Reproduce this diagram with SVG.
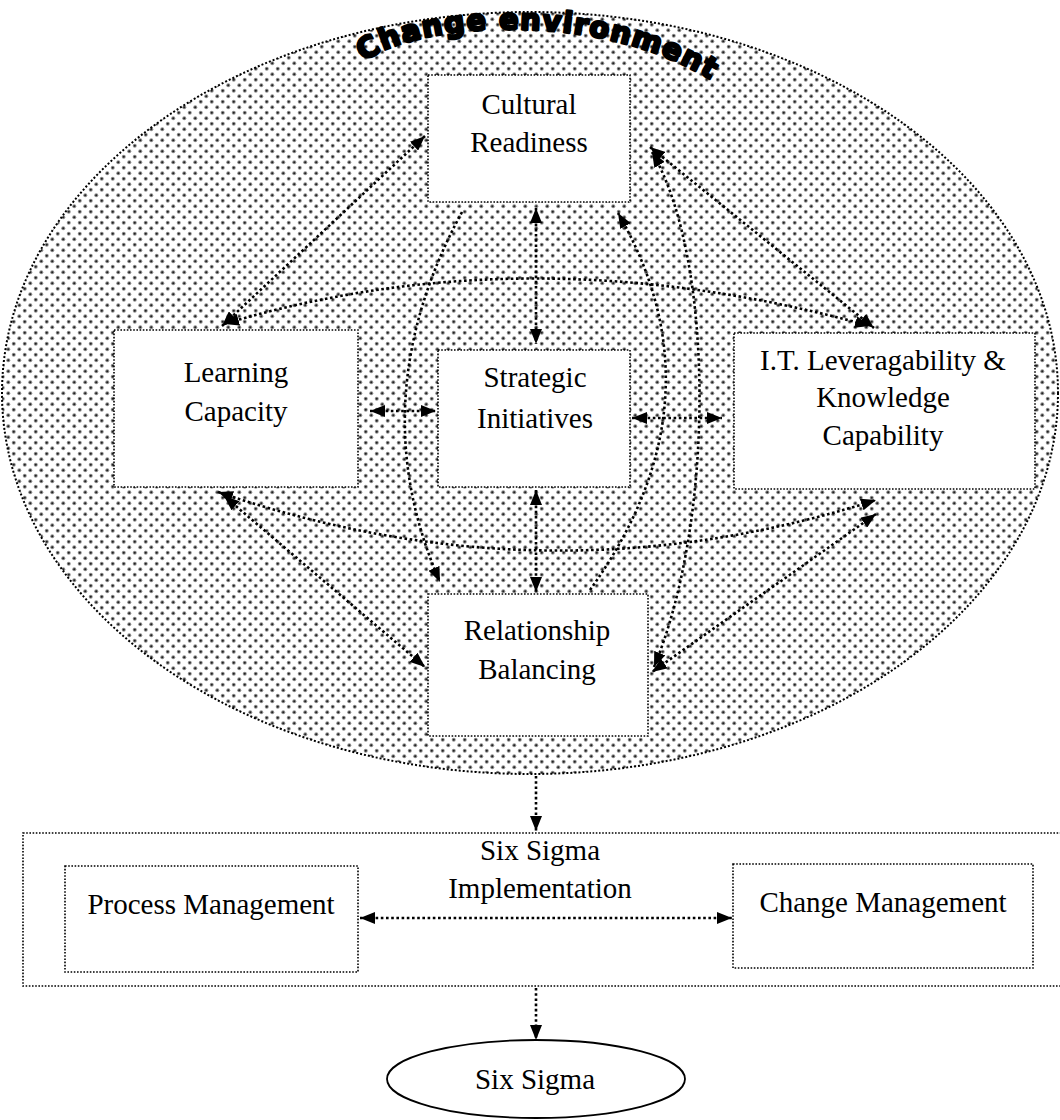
<svg xmlns="http://www.w3.org/2000/svg" width="1060" height="1120" viewBox="0 0 1060 1120">
  <style>
    .box { fill: #ffffff; stroke: #000; stroke-width: 1.6; stroke-dasharray: 1.6 1.6; }
    .lbl { font-family: "Liberation Serif", "Times New Roman", serif; font-size: 29px; fill: #000; text-anchor: middle; }
    .con { fill: none; stroke: #000; stroke-width: 2.6; stroke-dasharray: 2.6 2.6; }
    .title { font-family: "DejaVu Sans", "Liberation Sans", sans-serif; font-weight: bold; font-size: 29px; fill: #000; stroke: #000; stroke-width: 2.6; stroke-linejoin: round; letter-spacing: 1px; }
  </style>
  <defs>
    <!-- halftone dot fill for the environment ellipse -->
    <pattern id="dots" width="11" height="11" patternUnits="userSpaceOnUse">
      <rect width="11" height="11" fill="#fff"/>
      <circle cx="2.75" cy="2.75" r="2" fill="#8f8f8f"/>
      <circle cx="2.75" cy="2.75" r="1.05" fill="#222"/>
      <circle cx="8.25" cy="8.25" r="2" fill="#8f8f8f"/>
      <circle cx="8.25" cy="8.25" r="1.05" fill="#222"/>
    </pattern>
    <marker id="arr" markerUnits="userSpaceOnUse" markerWidth="16" markerHeight="12" refX="15" refY="6" orient="auto-start-reverse">
      <path d="M0,0 L15,6 L0,12 z" fill="#000"/>
    </marker>
    <path id="arch" d="M 364,62 C 414,22 600,8 714,82"/>
  </defs>

  <!-- change environment -->
  <g id="environment">
    <ellipse cx="530" cy="393" rx="528" ry="381" fill="url(#dots)" stroke="#000" stroke-width="2" stroke-dasharray="2 2"/>
    <text class="title"><textPath href="#arch" textLength="362" lengthAdjust="spacing">Change environment</textPath></text>
  </g>

  <g id="cultural-readiness">
    <rect class="box" x="428" y="75" width="202" height="127"/>
    <text class="lbl" x="529" y="114">Cultural</text>
    <text class="lbl" x="529" y="152">Readiness</text>
  </g>

  <g id="learning-capacity">
    <rect class="box" x="114" y="330" width="244" height="157"/>
    <text class="lbl" x="236" y="382">Learning</text>
    <text class="lbl" x="236" y="421">Capacity</text>
  </g>

  <g id="strategic-initiatives">
    <rect class="box" x="438" y="350" width="192" height="137"/>
    <text class="lbl" x="535" y="387">Strategic</text>
    <text class="lbl" x="535" y="428">Initiatives</text>
  </g>

  <g id="it-leveragability">
    <rect class="box" x="734" y="333" width="301" height="156"/>
    <text class="lbl" x="883" y="370">I.T. Leveragability &amp;</text>
    <text class="lbl" x="883" y="407">Knowledge</text>
    <text class="lbl" x="883" y="445">Capability</text>
  </g>

  <g id="relationship-balancing">
    <rect class="box" x="428" y="594" width="220" height="142"/>
    <text class="lbl" x="537" y="640">Relationship</text>
    <text class="lbl" x="537" y="679">Balancing</text>
  </g>

  <g id="six-sigma-implementation">
    <rect class="box" x="23" y="833" width="1060" height="153" style="fill:none"/>
    <text class="lbl" x="540" y="860">Six Sigma</text>
    <text class="lbl" x="540" y="898">Implementation</text>
  </g>

  <g id="process-management">
    <rect class="box" x="65" y="866" width="293" height="106"/>
    <text class="lbl" x="211" y="914">Process Management</text>
  </g>

  <g id="change-management">
    <rect class="box" x="733" y="864" width="300" height="104"/>
    <text class="lbl" x="883" y="912">Change Management</text>
  </g>

  <g id="six-sigma">
    <ellipse cx="536" cy="1079" rx="149" ry="39" fill="#fff" stroke="#000" stroke-width="1.8"/>
    <text class="lbl" x="535" y="1089">Six Sigma</text>
  </g>

  <g id="connectors">
    <path class="con" d="M 425,136 L 222,326" marker-start="url(#arr)" marker-end="url(#arr)"/>
    <path class="con" d="M 650,147 L 874,328" marker-start="url(#arr)" marker-end="url(#arr)"/>
    <path class="con" d="M 224,324 Q 530,232 870,326" marker-start="url(#arr)" marker-end="url(#arr)"/>
    <path class="con" d="M 218,492 Q 548,605 876,500" marker-start="url(#arr)" marker-end="url(#arr)"/>
    <path class="con" d="M 370,411 L 436,411" marker-start="url(#arr)" marker-end="url(#arr)"/>
    <path class="con" d="M 632,418 L 722,418" marker-start="url(#arr)" marker-end="url(#arr)"/>
    <path class="con" d="M 536,208 L 536,344" marker-start="url(#arr)" marker-end="url(#arr)"/>
    <path class="con" d="M 536,490 L 536,592" marker-start="url(#arr)" marker-end="url(#arr)"/>
    <path class="con" d="M 224,496 L 425,667" marker-start="url(#arr)" marker-end="url(#arr)"/>
    <path class="con" d="M 876,514 L 652,672" marker-start="url(#arr)" marker-end="url(#arr)"/>
    <path class="con" d="M 462,212 Q 360,400 440,582" marker-end="url(#arr)"/>
    <path class="con" d="M 590,590 Q 726,400 618,213" marker-end="url(#arr)"/>
    <path class="con" d="M 652,152 C 715,260 715,520 654,667" marker-start="url(#arr)" marker-end="url(#arr)"/>
    <path class="con" d="M 536,776 L 536,831" marker-end="url(#arr)"/>
    <path class="con" d="M 360,918 L 732,918" marker-start="url(#arr)" marker-end="url(#arr)"/>
    <path class="con" d="M 536,988 L 536,1040" marker-end="url(#arr)"/>
  </g>
</svg>
